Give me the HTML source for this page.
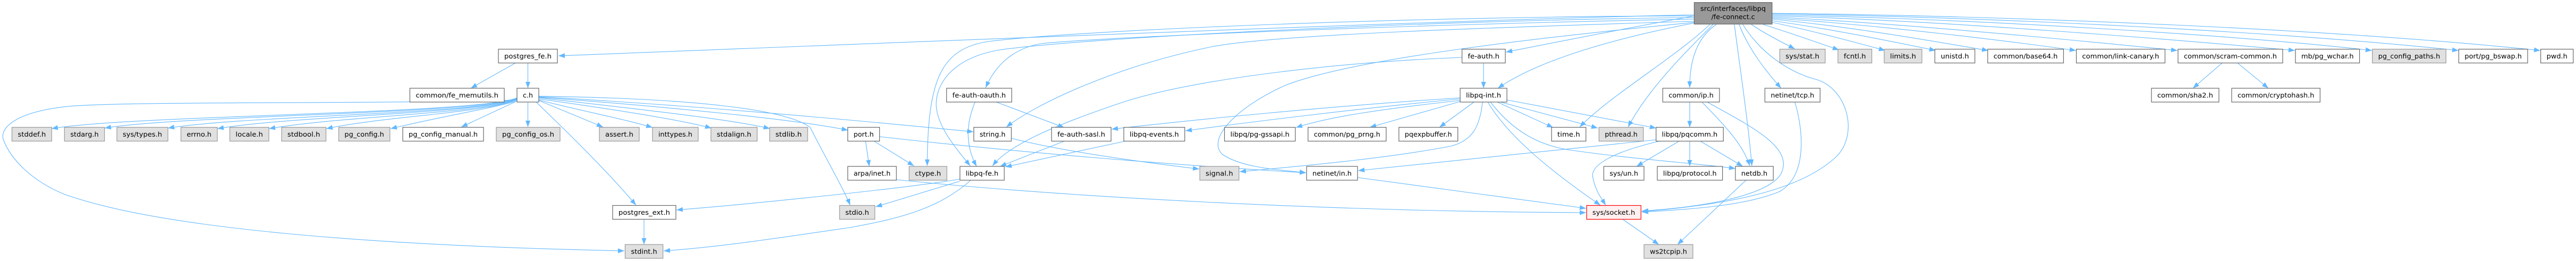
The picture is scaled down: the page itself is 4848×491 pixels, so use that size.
<!DOCTYPE html>
<html>
<head>
<meta charset="utf-8">
<style>
html,body{margin:0;padding:0;background:#fff;}
svg{display:block;}
.e{fill:none;stroke:#63b8ff;stroke-width:1.1;}
.w{fill:#ffffff;stroke:#666666;stroke-width:1.2;}
.g{fill:#e0e0e0;stroke:#999999;stroke-width:1.2;}
.r{fill:#999999;stroke:#666666;stroke-width:1.2;}
.t{fill:#fff0f0;stroke:#ff0000;stroke-width:1.2;}
text{font-family:"DejaVu Sans","Liberation Sans",sans-serif;font-size:12.7px;fill:#000;text-anchor:middle;}
</style>
</head>
<body>
<svg width="4848" height="491" viewBox="0 0 4848 491" xmlns="http://www.w3.org/2000/svg">
<defs>
<marker id="a" markerUnits="userSpaceOnUse" markerWidth="12" markerHeight="10" viewBox="0 0 12 10" refX="12" refY="5" orient="auto">
<path d="M0,0.5 L12,5 L0,9.5 z" fill="#63b8ff"/>
</marker>
</defs>
<g class="edges">
<!-- root edges -->
<path class="e" marker-end="url(#a)" d="M3188,28 C2800,35 1700,80 1051,105"/>
<path class="e" marker-end="url(#a)" d="M3188,30 C2700,30 2050,55 1860,78 C1770,92 1746,150 1745,312"/>
<path class="e" marker-end="url(#a)" d="M3188,33 C2700,38 2050,70 1880,94 C1790,110 1760,160 1762,200 C1765,240 1800,280 1826,312"/>
<path class="e" marker-end="url(#a)" d="M3188,36 C2700,45 2100,68 1960,82 C1900,92 1870,130 1855,165"/>
<path class="e" marker-end="url(#a)" d="M3188,40 C2800,52 2400,65 2280,88 C2100,125 1950,195 1894,239"/>
<path class="e" marker-end="url(#a)" d="M3189,42 C2900,70 2550,110 2420,160 C2330,200 2270,260 2300,290 C2340,318 2420,320 2458,325"/>
<path class="e" marker-end="url(#a)" d="M3188,30 C3050,55 2900,85 2834,98"/>
<path class="e" marker-end="url(#a)" d="M3190,43 C3050,70 2900,110 2819,166"/>
<path class="e" marker-end="url(#a)" d="M3218,46 C3150,110 3030,180 2973,239"/>
<path class="e" marker-end="url(#a)" d="M3224,46 C3170,100 3100,170 3064,239"/>
<path class="e" marker-end="url(#a)" d="M3230,46 C3195,70 3180,110 3180,165"/>
<path class="e" marker-end="url(#a)" d="M3264,46 C3275,130 3290,230 3297,312"/>
<path class="e" marker-end="url(#a)" d="M3273,46 C3290,90 3320,130 3352,166"/>
<path class="e" marker-end="url(#a)" d="M3280,46 C3320,110 3380,140 3420,150 C3480,170 3500,260 3450,300 C3380,360 3250,385 3090,398"/>
<path class="e" marker-end="url(#a)" d="M3296,46 C3320,62 3350,78 3378,92"/>
<path class="e" marker-end="url(#a)" d="M3318,46 C3370,62 3420,80 3461,94"/>
<path class="e" marker-end="url(#a)" d="M3335,42 C3420,60 3500,82 3548,95"/>
<path class="e" marker-end="url(#a)" d="M3335,39 C3450,55 3580,82 3643,95"/>
<path class="e" marker-end="url(#a)" d="M3335,36 C3500,52 3650,80 3742,95"/>
<path class="e" marker-end="url(#a)" d="M3335,34 C3550,48 3800,80 3907,95"/>
<path class="e" marker-end="url(#a)" d="M3335,32 C3600,45 3950,80 4098,95"/>
<path class="e" marker-end="url(#a)" d="M3335,30 C3650,38 4100,75 4319,95"/>
<path class="e" marker-end="url(#a)" d="M3335,28 C3700,35 4200,65 4464,95"/>
<path class="e" marker-end="url(#a)" d="M3335,26 C3750,32 4300,60 4627,95"/>
<path class="e" marker-end="url(#a)" d="M3335,25 C3800,30 4400,55 4781,95"/>
<!-- postgres_fe.h -->
<path class="e" marker-end="url(#a)" d="M970,118.5 L886,166"/>
<path class="e" marker-end="url(#a)" d="M993.5,118.5 L993.5,166"/>
<!-- c.h -->
<path class="e" marker-end="url(#a)" d="M973,188 C700,196 250,190 130,200 C30,210 0,240 6,262 C20,300 60,340 120,365 C300,430 700,462 1175,472"/>
<path class="e" marker-end="url(#a)" d="M973,184 C900,215 250,216 97,242"/>
<path class="e" marker-end="url(#a)" d="M973,185 C900,215 350,216 197,241"/>
<path class="e" marker-end="url(#a)" d="M973,186 C900,215 466,217 316,241"/>
<path class="e" marker-end="url(#a)" d="M973,186 C900,215 559,217 409,242"/>
<path class="e" marker-end="url(#a)" d="M973,187 C900,215 656,217 506,242"/>
<path class="e" marker-end="url(#a)" d="M973,188 C900,214 730,218 614,242"/>
<path class="e" marker-end="url(#a)" d="M973,190 C920,205 850,215 735,242"/>
<path class="e" marker-end="url(#a)" d="M973,190 L868,239"/>
<path class="e" marker-end="url(#a)" d="M993.5,192 L993.5,239"/>
<path class="e" marker-end="url(#a)" d="M1014,189 L1135,239"/>
<path class="e" marker-end="url(#a)" d="M1014,188 C1100,210 1180,225 1228,240"/>
<path class="e" marker-end="url(#a)" d="M1014,186 C1150,205 1280,225 1339,241"/>
<path class="e" marker-end="url(#a)" d="M1014,184 C1200,205 1380,225 1449,242"/>
<path class="e" marker-end="url(#a)" d="M1014,183 C1250,200 1500,225 1596,245"/>
<path class="e" marker-end="url(#a)" d="M1014,182 C1300,198 1600,225 1832,248"/>
<path class="e" marker-end="url(#a)" d="M1014,181 C1300,185 1480,205 1525,240 C1550,290 1590,360 1600,386"/>
<path class="e" marker-end="url(#a)" d="M1009,192 C1080,260 1150,330 1197,386"/>
<path class="e" marker-end="url(#a)" d="M1212,412.5 L1212,460"/>
<!-- libpq-fe.h -->
<path class="e" marker-end="url(#a)" d="M1827,339 C1770,390 1700,410 1600,428 C1450,450 1350,465 1249,472"/>
<path class="e" marker-end="url(#a)" d="M1806,341 L1648,389"/>
<path class="e" marker-end="url(#a)" d="M1806,337 C1700,355 1400,385 1273,395"/>
<!-- port.h -->
<path class="e" marker-end="url(#a)" d="M1629,265.5 L1636,313"/>
<path class="e" marker-end="url(#a)" d="M1645,265.5 L1720,312"/>
<path class="e" marker-end="url(#a)" d="M1655,257 C1900,285 2200,310 2458,325"/>
<path class="e" marker-end="url(#a)" d="M1903,260 C2000,285 2150,305 2257,318"/>
<path class="e" marker-end="url(#a)" d="M1687,338 C2000,370 2500,398 2985,400"/>
<!-- fe-auth-oauth etc -->
<path class="e" marker-end="url(#a)" d="M1835,192 C1815,240 1820,280 1838,313"/>
<path class="e" marker-end="url(#a)" d="M1875,192 L2003,240"/>
<path class="e" marker-end="url(#a)" d="M2003,265.5 L1882,313"/>
<path class="e" marker-end="url(#a)" d="M2118,265.5 L1892,314"/>
<path class="e" marker-end="url(#a)" d="M2751,108 C2500,118 2250,150 2120,190 C2000,230 1900,270 1868,312"/>
<path class="e" marker-end="url(#a)" d="M2792,118.5 L2792,166"/>
<!-- libpq-int.h -->
<path class="e" marker-end="url(#a)" d="M2748,184 C2500,200 2250,225 2092,243"/>
<path class="e" marker-end="url(#a)" d="M2748,186 C2550,205 2350,230 2231,246"/>
<path class="e" marker-end="url(#a)" d="M2748,189 C2600,205 2500,220 2439,240"/>
<path class="e" marker-end="url(#a)" d="M2748,191 L2578,239.5"/>
<path class="e" marker-end="url(#a)" d="M2774,192 L2709,239.5"/>
<path class="e" marker-end="url(#a)" d="M2818,192 L2923,240"/>
<path class="e" marker-end="url(#a)" d="M2824,192 L3007,241"/>
<path class="e" marker-end="url(#a)" d="M2836,188 L3117,241"/>
<path class="e" marker-end="url(#a)" d="M2800,192 C2840,260 2930,330 3012,386"/>
<path class="e" marker-end="url(#a)" d="M2805,192 C2850,250 2900,275 2960,283 C3080,300 3200,308 3266,317"/>
<path class="e" marker-end="url(#a)" d="M2790,192 C2785,240 2770,265 2730,275 C2600,300 2420,315 2333,323"/>
<!-- pqcomm -->
<path class="e" marker-end="url(#a)" d="M3117,263 L2556,321"/>
<path class="e" marker-end="url(#a)" d="M3123,265.5 C3040,285 2990,310 2998,335 C3003,360 3015,375 3022,386"/>
<path class="e" marker-end="url(#a)" d="M3160,265.5 L3080,313"/>
<path class="e" marker-end="url(#a)" d="M3180,265.5 L3180,313"/>
<path class="e" marker-end="url(#a)" d="M3200,265.5 L3280,313"/>
<!-- common/ip.h -->
<path class="e" marker-end="url(#a)" d="M3180,192 L3180,239.5"/>
<path class="e" marker-end="url(#a)" d="M3203,192 C3240,230 3280,270 3293,312"/>
<path class="e" marker-end="url(#a)" d="M3213,192 C3300,240 3380,280 3350,330 C3320,370 3200,390 3090,397"/>
<!-- tcp -->
<path class="e" marker-end="url(#a)" d="M3378,192 C3395,250 3400,330 3350,360 C3290,385 3200,393 3090,399"/>
<path class="e" marker-end="url(#a)" d="M2555,334 L2985,392"/>
<path class="e" marker-end="url(#a)" d="M3054,412.5 L3122,460"/>
<path class="e" marker-end="url(#a)" d="M3286,339 L3157,460"/>
<!-- scram -->
<path class="e" marker-end="url(#a)" d="M4182,118.5 L4127,166"/>
<path class="e" marker-end="url(#a)" d="M4211,118.5 L4269,166"/>
</g>

<g class="nodes">
<!-- root -->
<rect class="r" x="3188.5" y="4.7" width="146.5" height="40.6"/>
<text x="3261.7" y="20.7" textLength="123" lengthAdjust="spacingAndGlyphs">src/interfaces/libpq</text>
<text x="3261.7" y="36" textLength="82" lengthAdjust="spacingAndGlyphs">/fe-connect.c</text>

<!-- row1 y=92.5 -->
<rect class="w" x="938" y="92.5" width="111" height="26"/><text x="993.5" y="110" textLength="89" lengthAdjust="spacingAndGlyphs">postgres_fe.h</text>
<rect class="w" x="2751.5" y="92.5" width="81.5" height="26"/><text x="2792.2" y="110" textLength="59.5" lengthAdjust="spacingAndGlyphs">fe-auth.h</text>
<rect class="g" x="3349.5" y="92.5" width="85.5" height="26"/><text x="3392.2" y="110" textLength="63.5" lengthAdjust="spacingAndGlyphs">sys/stat.h</text>
<rect class="g" x="3459" y="92.5" width="63.7" height="26"/><text x="3490.8" y="110" textLength="41.7" lengthAdjust="spacingAndGlyphs">fcntl.h</text>
<rect class="g" x="3546" y="92.5" width="71" height="26"/><text x="3581.5" y="110" textLength="49" lengthAdjust="spacingAndGlyphs">limits.h</text>
<rect class="w" x="3641.4" y="92.5" width="75.3" height="26"/><text x="3679" y="110" textLength="53.3" lengthAdjust="spacingAndGlyphs">unistd.h</text>
<rect class="w" x="3740.8" y="92.5" width="142.7" height="26"/><text x="3812.1" y="110" textLength="120.7" lengthAdjust="spacingAndGlyphs">common/base64.h</text>
<rect class="w" x="3907.6" y="92.5" width="166.9" height="26"/><text x="3991" y="110" textLength="144.9" lengthAdjust="spacingAndGlyphs">common/link-canary.h</text>
<rect class="w" x="4099" y="92.5" width="197" height="26"/><text x="4197.5" y="110" textLength="175" lengthAdjust="spacingAndGlyphs">common/scram-common.h</text>
<rect class="w" x="4320" y="92.5" width="120.6" height="26"/><text x="4380.3" y="110" textLength="98.6" lengthAdjust="spacingAndGlyphs">mb/pg_wchar.h</text>
<rect class="g" x="4464.7" y="92.5" width="138.6" height="26"/><text x="4534" y="110" textLength="116.6" lengthAdjust="spacingAndGlyphs">pg_config_paths.h</text>
<rect class="w" x="4627.4" y="92.5" width="129.6" height="26"/><text x="4692.2" y="110" textLength="107.6" lengthAdjust="spacingAndGlyphs">port/pg_bswap.h</text>
<rect class="w" x="4781.6" y="92.5" width="61.2" height="26"/><text x="4812.2" y="110" textLength="39.2" lengthAdjust="spacingAndGlyphs">pwd.h</text>

<!-- row2 y=166 -->
<rect class="w" x="771.4" y="166" width="177.6" height="26"/><text x="860.2" y="183.5" textLength="155.6" lengthAdjust="spacingAndGlyphs">common/fe_memutils.h</text>
<rect class="w" x="973" y="166" width="41" height="26"/><text x="993.5" y="183.5" textLength="19" lengthAdjust="spacingAndGlyphs">c.h</text>
<rect class="w" x="1781.5" y="166" width="122.5" height="26"/><text x="1842.7" y="183.5" textLength="100.5" lengthAdjust="spacingAndGlyphs">fe-auth-oauth.h</text>
<rect class="w" x="2748" y="166" width="88" height="26"/><text x="2792" y="183.5" textLength="66" lengthAdjust="spacingAndGlyphs">libpq-int.h</text>
<rect class="w" x="3129.3" y="166" width="106.7" height="26"/><text x="3182.6" y="183.5" textLength="84.7" lengthAdjust="spacingAndGlyphs">common/ip.h</text>
<rect class="w" x="3321.5" y="166" width="103.9" height="26"/><text x="3373.4" y="183.5" textLength="81.9" lengthAdjust="spacingAndGlyphs">netinet/tcp.h</text>
<rect class="w" x="4049" y="166" width="127" height="26"/><text x="4112.5" y="183.5" textLength="105" lengthAdjust="spacingAndGlyphs">common/sha2.h</text>
<rect class="w" x="4200" y="166" width="166.4" height="26"/><text x="4283.2" y="183.5" textLength="144.4" lengthAdjust="spacingAndGlyphs">common/cryptohash.h</text>

<!-- row3 y=239.5 -->
<rect class="g" x="22.5" y="239.5" width="74.8" height="26"/><text x="59.9" y="257" textLength="52.8" lengthAdjust="spacingAndGlyphs">stddef.h</text>
<rect class="g" x="121.3" y="239.5" width="75.3" height="26"/><text x="159" y="257" textLength="53.3" lengthAdjust="spacingAndGlyphs">stdarg.h</text>
<rect class="g" x="220" y="239.5" width="96" height="26"/><text x="268" y="257" textLength="74" lengthAdjust="spacingAndGlyphs">sys/types.h</text>
<rect class="g" x="340.5" y="239.5" width="68.5" height="26"/><text x="374.7" y="257" textLength="46.5" lengthAdjust="spacingAndGlyphs">errno.h</text>
<rect class="g" x="432.5" y="239.5" width="73.5" height="26"/><text x="469.2" y="257" textLength="51.5" lengthAdjust="spacingAndGlyphs">locale.h</text>
<rect class="g" x="530" y="239.5" width="83.5" height="26"/><text x="571.7" y="257" textLength="61.5" lengthAdjust="spacingAndGlyphs">stdbool.h</text>
<rect class="g" x="637.5" y="239.5" width="96.3" height="26"/><text x="685.6" y="257" textLength="74.3" lengthAdjust="spacingAndGlyphs">pg_config.h</text>
<rect class="w" x="758" y="239.5" width="152" height="26"/><text x="834" y="257" textLength="130" lengthAdjust="spacingAndGlyphs">pg_config_manual.h</text>
<rect class="g" x="934" y="239.5" width="120" height="26"/><text x="994" y="257" textLength="98" lengthAdjust="spacingAndGlyphs">pg_config_os.h</text>
<rect class="g" x="1128" y="239.5" width="75" height="26"/><text x="1165.5" y="257" textLength="53" lengthAdjust="spacingAndGlyphs">assert.h</text>
<rect class="g" x="1228" y="239.5" width="86" height="26"/><text x="1271" y="257" textLength="64" lengthAdjust="spacingAndGlyphs">inttypes.h</text>
<rect class="g" x="1338" y="239.5" width="87" height="26"/><text x="1381.5" y="257" textLength="65" lengthAdjust="spacingAndGlyphs">stdalign.h</text>
<rect class="g" x="1448.5" y="239.5" width="71.5" height="26"/><text x="1484.2" y="257" textLength="49.5" lengthAdjust="spacingAndGlyphs">stdlib.h</text>
<rect class="w" x="1595.5" y="239.5" width="59.9" height="26"/><text x="1625.4" y="257" textLength="37.9" lengthAdjust="spacingAndGlyphs">port.h</text>
<rect class="w" x="1832.7" y="239.5" width="70.6" height="26"/><text x="1868" y="257" textLength="48.6" lengthAdjust="spacingAndGlyphs">string.h</text>
<rect class="w" x="1979" y="239.5" width="112" height="26"/><text x="2035" y="257" textLength="90" lengthAdjust="spacingAndGlyphs">fe-auth-sasl.h</text>
<rect class="w" x="2115" y="239.5" width="114.7" height="26"/><text x="2172.3" y="257" textLength="92.7" lengthAdjust="spacingAndGlyphs">libpq-events.h</text>
<rect class="w" x="2304.5" y="239.5" width="133.2" height="26"/><text x="2371.1" y="257" textLength="111.2" lengthAdjust="spacingAndGlyphs">libpq/pg-gssapi.h</text>
<rect class="w" x="2461.7" y="239.5" width="147" height="26"/><text x="2535.2" y="257" textLength="125" lengthAdjust="spacingAndGlyphs">common/pg_prng.h</text>
<rect class="w" x="2632.7" y="239.5" width="110.9" height="26"/><text x="2688.1" y="257" textLength="88.9" lengthAdjust="spacingAndGlyphs">pqexpbuffer.h</text>
<rect class="w" x="2920" y="239.5" width="64.7" height="26"/><text x="2952.3" y="257" textLength="42.7" lengthAdjust="spacingAndGlyphs">time.h</text>
<rect class="g" x="3009.3" y="239.5" width="83.4" height="26"/><text x="3051" y="257" textLength="61.4" lengthAdjust="spacingAndGlyphs">pthread.h</text>
<rect class="w" x="3116.7" y="239.5" width="126.6" height="26"/><text x="3180" y="257" textLength="104.6" lengthAdjust="spacingAndGlyphs">libpq/pqcomm.h</text>

<!-- row4 y=313 -->
<rect class="w" x="1595.5" y="313" width="91.5" height="26"/><text x="1641.2" y="330.5" textLength="69.5" lengthAdjust="spacingAndGlyphs">arpa/inet.h</text>
<rect class="g" x="1711" y="313" width="71" height="26"/><text x="1746.5" y="330.5" textLength="49" lengthAdjust="spacingAndGlyphs">ctype.h</text>
<rect class="w" x="1806.6" y="313" width="83.4" height="26"/><text x="1848.3" y="330.5" textLength="61.4" lengthAdjust="spacingAndGlyphs">libpq-fe.h</text>
<rect class="g" x="2258" y="313" width="73.7" height="26"/><text x="2294.8" y="330.5" textLength="51.7" lengthAdjust="spacingAndGlyphs">signal.h</text>
<rect class="w" x="2459" y="313" width="95.8" height="26"/><text x="2506.9" y="330.5" textLength="73.8" lengthAdjust="spacingAndGlyphs">netinet/in.h</text>
<rect class="w" x="3018.3" y="313" width="75.7" height="26"/><text x="3056.1" y="330.5" textLength="53.7" lengthAdjust="spacingAndGlyphs">sys/un.h</text>
<rect class="w" x="3119" y="313" width="122.7" height="26"/><text x="3180.3" y="330.5" textLength="100.7" lengthAdjust="spacingAndGlyphs">libpq/protocol.h</text>
<rect class="w" x="3266" y="313" width="71.3" height="26"/><text x="3301.6" y="330.5" textLength="49.3" lengthAdjust="spacingAndGlyphs">netdb.h</text>

<!-- row5 y=386.5 -->
<rect class="w" x="1153" y="386.5" width="119" height="26"/><text x="1212.5" y="404" textLength="97" lengthAdjust="spacingAndGlyphs">postgres_ext.h</text>
<rect class="g" x="1580" y="386.5" width="66.5" height="26"/><text x="1613.2" y="404" textLength="44.5" lengthAdjust="spacingAndGlyphs">stdio.h</text>
<rect class="t" x="2986" y="386.5" width="102.3" height="26"/><text x="3037.1" y="404" textLength="80.3" lengthAdjust="spacingAndGlyphs">sys/socket.h</text>

<!-- row6 y=460 -->
<rect class="g" x="1176.5" y="460" width="71.2" height="26"/><text x="1212.1" y="477.5" textLength="49.2" lengthAdjust="spacingAndGlyphs">stdint.h</text>
<rect class="g" x="3094" y="460" width="92" height="26"/><text x="3140" y="477.5" textLength="70" lengthAdjust="spacingAndGlyphs">ws2tcpip.h</text>
</g>
</svg>
</body>
</html>
